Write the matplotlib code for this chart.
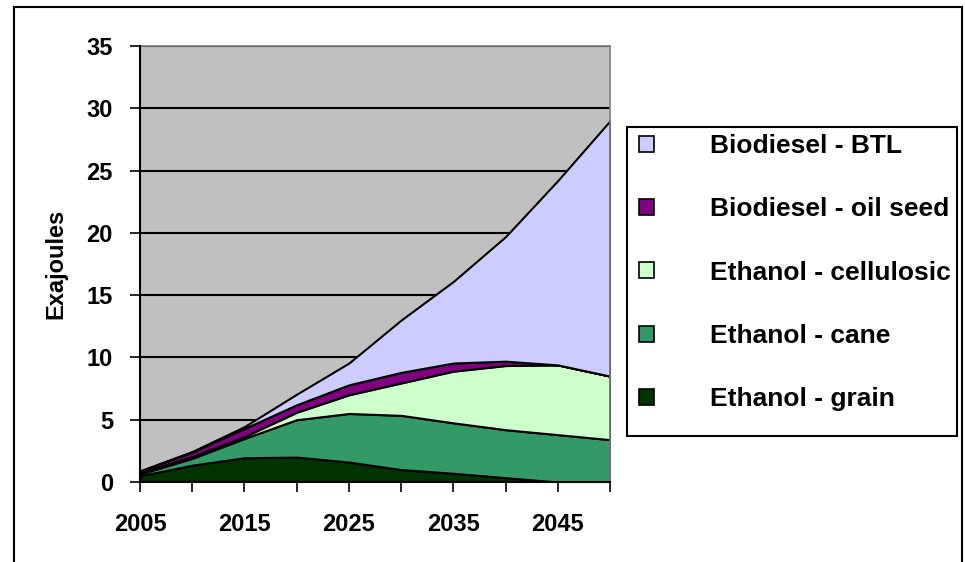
import numpy as np
import matplotlib
matplotlib.use('Agg')
import matplotlib.pyplot as plt
from matplotlib.patches import Patch, Rectangle

plt.rcParams['font.family'] = ['Liberation Sans', 'DejaVu Sans']
plt.rcParams['font.weight'] = 'bold'

# Biofuel production by source, exajoules
years = [2005, 2010, 2015, 2020, 2025, 2030, 2035, 2040, 2045, 2050]
ethanol_grain = [0.5, 1.35, 1.95, 2.0, 1.6, 1.0, 0.7, 0.35, 0.0, 0.0]
ethanol_cane = [0.15, 0.55, 1.55, 3.0, 3.9, 4.35, 4.05, 3.85, 3.8, 3.4]
ethanol_cellulosic = [0.07, 0.15, 0.15, 0.6, 1.5, 2.6, 4.15, 5.15, 5.6, 5.1]
biodiesel_oilseed = [0.13, 0.35, 0.65, 0.6, 0.8, 0.85, 0.65, 0.35, 0.0, 0.0]
biodiesel_btl = [0.05, 0.05, 0.15, 0.85, 1.75, 4.2, 6.55, 10.0, 14.8, 20.5]

labels = ['Ethanol - grain', 'Ethanol - cane', 'Ethanol - cellulosic',
          'Biodiesel - oil seed', 'Biodiesel - BTL']
colors = ['#003300', '#339966', '#CCFFCC', '#800080', '#CCCCFF']

W, H = 965, 562
fig = plt.figure(figsize=(W / 100, H / 100), dpi=100)
ax = fig.add_axes([140 / W, 80 / H, 470 / W, 436 / H])
ax.set_facecolor('#C0C0C0')

ax.set_ylim(0, 35)
ax.set_yticks(range(0, 36, 5))
ax.grid(axis='y', color='black', linewidth=1.5)
ax.set_axisbelow(True)

ax.stackplot(years, ethanol_grain, ethanol_cane, ethanol_cellulosic,
             biodiesel_oilseed, biodiesel_btl, colors=colors,
             edgecolor='black', linewidth=1.5, zorder=2)

ax.set_xlim(2005, 2050)
ax.set_xticks(range(2005, 2051, 5))
ax.set_xticklabels([str(y) if (y - 2005) % 10 == 0 else '' for y in range(2005, 2051, 5)])
ax.tick_params(axis='both', direction='out', length=7.5, width=1.2, labelsize=17)
ax.tick_params(axis='y', pad=12)
ax.tick_params(axis='x', pad=15)

for side in ['left', 'bottom']:
    ax.spines[side].set_color('black')
    ax.spines[side].set_linewidth(1.5)
    ax.spines[side].set_zorder(5)
for side in ['top', 'right']:
    ax.spines[side].set_color('#808080')
    ax.spines[side].set_linewidth(1.2)

ax.set_ylabel('Exajoules', fontsize=17, fontweight='bold', labelpad=14)

# legend, top entry is the top of the stack
handles = [Patch(facecolor=c, edgecolor='black', linewidth=1.2) for c in colors]
leg = fig.legend(handles[::-1], labels[::-1], loc='upper left',
                 bbox_to_anchor=(639 / W, 1 - 134 / H),
                 fontsize=19, frameon=False, borderaxespad=0, borderpad=0,
                 handlelength=0.57, handleheight=0.57, handletextpad=2.12,
                 labelspacing=1.49)

# legend box and outer chart border
fig.patches.append(Rectangle((627 / W, 1 - 436 / H), 330 / W, 309 / H,
                             transform=fig.transFigure, fill=False,
                             edgecolor='black', linewidth=1.5))
fig.patches.append(Rectangle((14 / W, -0.05), 948 / W, 1.05 - 7 / H,
                             transform=fig.transFigure, fill=False,
                             edgecolor='black', linewidth=1.5))

fig.savefig('out.png', dpi=100)
